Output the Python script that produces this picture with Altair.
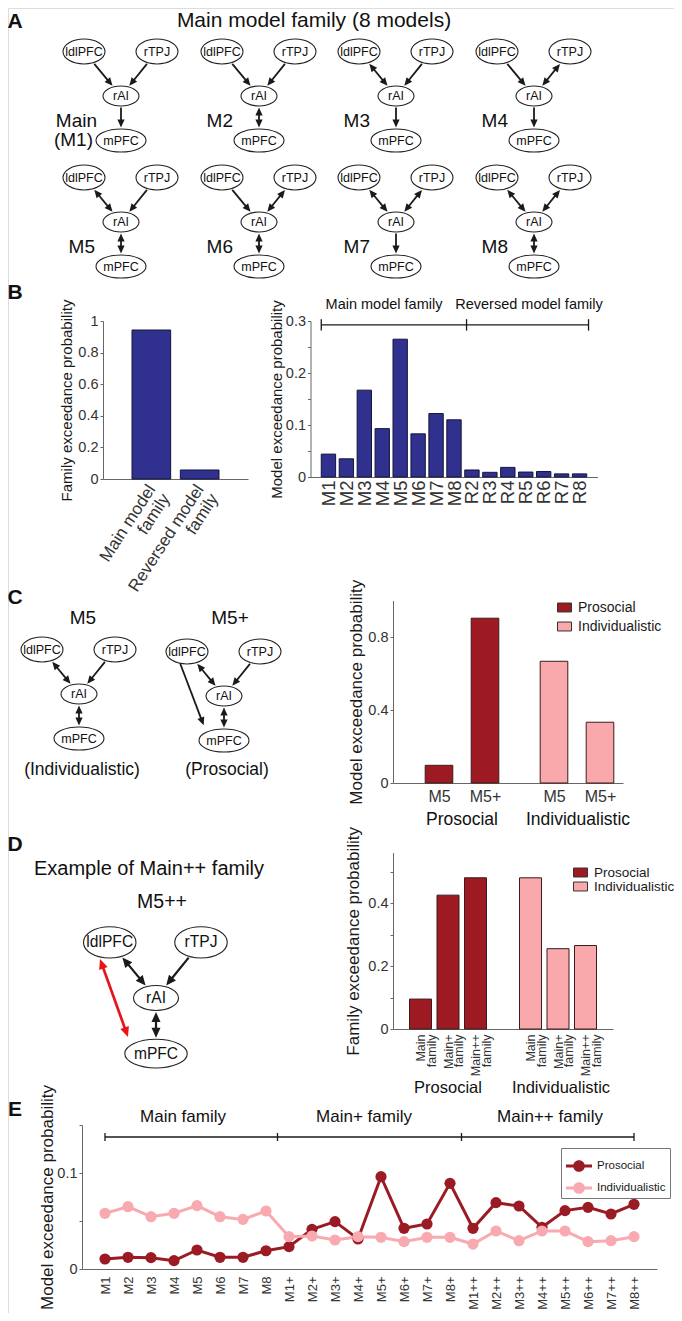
import math
import altair as alt
import pandas as pd

FONT = "Liberation Sans"
W, H = 666, 1305
MG = 8

# ---------------- values ----------------
fam_names = ["Main model family", "Reversed model family"]
fam_values = [0.943, 0.057]

model_names = ["M1", "M2", "M3", "M4", "M5", "M6", "M7", "M8",
               "R2", "R3", "R4", "R5", "R6", "R7", "R8"]
model_values = [0.044, 0.035, 0.167, 0.093, 0.265, 0.083, 0.122, 0.110,
                0.0135, 0.009, 0.0185, 0.0095, 0.0105, 0.006, 0.006]

groups = ["Prosocial", "Individualistic"]
c_models = ["M5", "M5+"]
c_prosocial = [0.097, 0.903]
c_individualistic = [0.667, 0.333]

d_families = ["Main family", "Main+ family", "Main++ family"]
d_prosocial = [0.095, 0.425, 0.480]
d_individualistic = [0.480, 0.255, 0.265]

e_models = ["M1", "M2", "M3", "M4", "M5", "M6", "M7", "M8",
            "M1+", "M2+", "M3+", "M4+", "M5+", "M6+", "M7+", "M8+",
            "M1++", "M2++", "M3++", "M4++", "M5++", "M6++", "M7++", "M8++"]
e_prosocial = [0.0104, 0.0122, 0.0118, 0.0087, 0.0198, 0.0122, 0.0122, 0.0190,
               0.0233, 0.0413, 0.0493, 0.0313, 0.0962, 0.0424, 0.0469, 0.0892,
               0.0424, 0.0691, 0.0656, 0.0434, 0.0608, 0.0642, 0.0573, 0.0674]
e_individualistic = [0.0580, 0.0649, 0.0545, 0.0580, 0.0660, 0.0545, 0.0517, 0.0604,
                     0.0337, 0.0344, 0.0302, 0.0337, 0.0330, 0.0285, 0.0330, 0.0330,
                     0.0260, 0.0396, 0.0295, 0.0396, 0.0396, 0.0285, 0.0295, 0.0337]
e_families = ["Main family", "Main+ family", "Main++ family"]

# connectivity of the 8 main-family models: (ldlPFC-rAI, rTPJ-rAI, rAI-mPFC)
a_models = ["M1", "M2", "M3", "M4", "M5", "M6", "M7", "M8"]
a_links = [("->", "->", "->"), ("->", "->", "<->"), ("<->", "->", "->"), ("->", "<->", "->"),
           ("<->", "->", "<->"), ("->", "<->", "<->"), ("<->", "<->", "->"), ("<->", "<->", "<->")]

# ---------------- styling ----------------
BLUE = "#30308f"
RED = "#9e1a23"
PINK = "#f9a8ab"
INK = "#1a1a1a"
ARROW_RED = "#e8141c"


def S(domain, r0, r1):
    return alt.Scale(domain=domain, range=[r0 - MG, r1 - MG], nice=False, zero=False)


def PX():
    return S([0, 682], 0, 682)


def PY():
    return S([0, 1321], 0, 1321)


AX = dict(domainColor="#666666", domainWidth=1, tickColor="#666666", labelColor="#333333",
          labelFont=FONT, titleFont=FONT, titleFontWeight="normal", titleColor=INK,
          grid=False, labelFlush=False, labelOverlap=False, labelBound=False)


def yaxis(xpage, values, expr, title, tsize, tpad, lsize=14.5):
    return alt.Axis(orient="left", offset=-(xpage - MG), values=values, labelExpr=expr,
                    title=title, titleFontSize=tsize, titlePadding=tpad, labelFontSize=lsize,
                    tickSize=3, labelPadding=2, **AX)


def xaxis(ypage, values, expr, angle=0, lsize=14, pad=4, align=None, baseline=None, lh=None):
    kw = {}
    if align:
        kw["labelAlign"] = align
    if baseline:
        kw["labelBaseline"] = baseline
    if lh:
        kw["labelLineHeight"] = lh
    return alt.Axis(orient="bottom", offset=(ypage - MG) - H, values=values, labelExpr=expr,
                    labelAngle=angle, labelFontSize=lsize, labelPadding=pad, ticks=False,
                    title=None, **AX, **kw)


def js(v):
    if isinstance(v, (list, tuple)):
        return "[" + ",".join(js(x) for x in v) + "]"
    return "'" + str(v) + "'"


def label_expr(positions, labels):
    expr = "''"
    for p, l in reversed(list(zip(positions, labels))):
        expr = f"abs(datum.value - {p}) < 0.01 ? {js(l)} : ({expr})"
    return expr


def two_lines(name):
    return name.rsplit(" ", 1)


layers = []

# ---------------- diagrams ----------------
NODES = ["ldlPFC", "rTPJ", "rAI", "mPFC"]
NODE_POS = {"ldlPFC": (-37, -44.5), "rTPJ": (36, -44.5), "rAI": (0, 0), "mPFC": (0, 44.5)}
NODE_WH = {"ldlPFC": (42, 25), "rTPJ": (42, 25), "rAI": (36, 20), "mPFC": (50, 23)}
LINKS = [("ldlPFC", "rAI"), ("rTPJ", "rAI"), ("rAI", "mPFC")]
HEAD = "M0,0L0.45,1L-0.45,1Z"

node_rows, ntext_rows, line_rows, head_rows = [], [], [], []


def ang(ux, uy):
    return math.degrees(math.atan2(ux, -uy)) % 360


def add_arrow(p0, p1, head0, head1, col, sw, L):
    dx, dy = p1[0] - p0[0], p1[1] - p0[1]
    d = math.hypot(dx, dy)
    ux, uy = dx / d, dy / d
    s0 = (p0[0] + ux * 0.6 * L, p0[1] + uy * 0.6 * L) if head0 else p0
    s1 = (p1[0] - ux * 0.6 * L, p1[1] - uy * 0.6 * L) if head1 else p1
    line_rows.append(dict(x=s0[0], y=s0[1], x2=s1[0], y2=s1[1], col=col, sw=sw))
    if head1:
        head_rows.append(dict(x=p1[0], y=p1[1], ang=ang(ux, uy), sz=(2 * L) ** 2, col=col))
    if head0:
        head_rows.append(dict(x=p0[0], y=p0[1], ang=ang(-ux, -uy), sz=(2 * L) ** 2, col=col))


def add_diagram(cx, cy, s, links, fs, extra=()):
    def pos(n):
        return cx + NODE_POS[n][0] * s, cy + NODE_POS[n][1] * s

    for n in NODES:
        x, y = pos(n)
        w, _ = NODE_WH[n]
        node_rows.append(dict(x=x, y=y, node=n, sz=(w * s) ** 2))
        ntext_rows.append(dict(x=x, y=y, t=n, fs=fs))
    gap = 1.5
    for (a, b), kind in zip(LINKS, links):
        ax_, ay_ = pos(a)
        bx_, by_ = pos(b)
        d = math.hypot(bx_ - ax_, by_ - ay_)
        ux, uy = (bx_ - ax_) / d, (by_ - ay_) / d
        wa, ha = NODE_WH[a]
        wb, hb = NODE_WH[b]
        ta = 1 / math.sqrt((ux / (wa * s / 2)) ** 2 + (uy / (ha * s / 2)) ** 2)
        tb = 1 / math.sqrt((ux / (wb * s / 2)) ** 2 + (uy / (hb * s / 2)) ** 2)
        p0 = (ax_ + ux * (ta + gap), ay_ + uy * (ta + gap))
        p1 = (bx_ - ux * (tb + gap), by_ - uy * (tb + gap))
        add_arrow(p0, p1, kind == "<->", True, INK, 1.8 * s, 8 * s)
    for (q0, q1, h0, h1, col, sw) in extra:
        add_arrow((cx + q0[0] * s, cy + q0[1] * s), (cx + q1[0] * s, cy + q1[1] * s),
                  h0, h1, col, sw * s, 8 * s)


# layout of the diagrams (rAI centre of each diagram, page pixels)
A_X = [121, 259, 396, 534]
A_Y = [96, 222]
for i, m in enumerate(a_models):
    add_diagram(A_X[i % 4], A_Y[i // 4], 1.0, a_links[i], 12.5)
add_diagram(79, 694, 1.0, a_links[4], 12.5)
add_diagram(224, 696, 1.0, a_links[4], 12.5,
            extra=[((-44.3, -33.7), (-20.3, 29.3), False, True, INK, 1.8)])
add_diagram(156, 998, 1.25, a_links[4], 15.6,
            extra=[((-44.8, -31.2), (-22.4, 31.2), True, True, ARROW_RED, 2.2)])


def ellipse_path(a):
    return f"M-1,0A1,{a} 0 0,1 1,0A1,{a} 0 0,1 -1,0Z"


shape_scale = alt.Scale(domain=NODES,
                        range=[ellipse_path(round(NODE_WH[n][1] / NODE_WH[n][0], 3)) for n in NODES])

layers.append(alt.Chart(pd.DataFrame(line_rows)).mark_rule().encode(
    x=alt.X("x:Q", scale=PX(), axis=None), y=alt.Y("y:Q", scale=PY(), axis=None),
    x2="x2:Q", y2="y2:Q",
    color=alt.Color("col:N", scale=None), strokeWidth=alt.StrokeWidth("sw:Q", scale=None)))
layers.append(alt.Chart(pd.DataFrame(head_rows)).mark_point(
    filled=True, shape=HEAD, opacity=1, strokeWidth=0).encode(
    x=alt.X("x:Q", scale=PX(), axis=None), y=alt.Y("y:Q", scale=PY(), axis=None),
    angle=alt.Angle("ang:Q", scale=None), size=alt.Size("sz:Q", scale=None),
    color=alt.Color("col:N", scale=None)))
layers.append(alt.Chart(pd.DataFrame(node_rows)).mark_point(
    filled=True, fill="white", stroke="#222222", strokeWidth=1.1, opacity=1).encode(
    x=alt.X("x:Q", scale=PX(), axis=None), y=alt.Y("y:Q", scale=PY(), axis=None),
    shape=alt.Shape("node:N", scale=shape_scale, legend=None),
    size=alt.Size("sz:Q", scale=None)))


def text_layer(rows, align="center", weight="normal"):
    return alt.Chart(pd.DataFrame(rows)).mark_text(
        font=FONT, align=align, baseline="middle", fontWeight=weight, color="#111111").encode(
        x=alt.X("x:Q", scale=PX(), axis=None), y=alt.Y("y:Q", scale=PY(), axis=None),
        text="t:N", size=alt.Size("fs:Q", scale=None))


layers.append(text_layer(ntext_rows))

# ---------------- annotations (page positions) ----------------
center_txt = [
    dict(t="Main model family (8 models)", x=314, y=21, fs=21),
    dict(t="M5", x=83, y=618, fs=19), dict(t="M5+", x=230, y=618, fs=19),
    dict(t="(Individualistic)", x=82, y=770, fs=17.5), dict(t="(Prosocial)", x=227, y=770, fs=17.5),
    dict(t="Example of Main++ family", x=149, y=869, fs=20), dict(t="M5++", x=162, y=902, fs=19.5),
    dict(t="Main model family", x=384, y=305, fs=14.5),
    dict(t="Reversed model family", x=529, y=305, fs=14.5),
    dict(t=groups[0], x=462, y=820, fs=17.5), dict(t=groups[1], x=578, y=820, fs=17.5),
    dict(t=groups[0], x=448, y=1088, fs=16.5), dict(t=groups[1], x=561, y=1088, fs=16.5),
    dict(t=e_families[0], x=183, y=1117, fs=17), dict(t=e_families[1], x=364, y=1117, fs=17),
    dict(t=e_families[2], x=550, y=1117, fs=17),
]
right_txt = []
for i, m in enumerate(a_models):
    cx, cy = A_X[i % 4], A_Y[i // 4]
    if i == 0:
        right_txt.append(dict(t="Main", x=cx - 24, y=cy + 24.5, fs=19))
        right_txt.append(dict(t="(M1)", x=cx - 28, y=cy + 43.5, fs=19))
    else:
        right_txt.append(dict(t=m, x=cx - 26, y=cy + 25, fs=19))
letters = [dict(t=L, x=15, y=yy, fs=21) for L, yy in
           zip("ABCDE", [22, 293, 598, 845, 1110])]
layers.append(text_layer(center_txt))
layers.append(text_layer(right_txt, align="right"))
layers.append(text_layer(letters, weight="bold"))

# ---------------- B left: family exceedance ----------------
b1 = pd.DataFrame({"name": fam_names, "value": fam_values})
b1["pos"] = range(1, len(b1) + 1)
b1["lo"] = b1["pos"] - 0.4
b1["hi"] = b1["pos"] + 0.4
layers.append(alt.Chart(b1).mark_bar(color=BLUE, stroke="#15153a", strokeWidth=1).encode(
    x=alt.X("lo:Q", scale=S([0, 3], 103, 248),
            axis=xaxis(479, [1, 2], label_expr([1, 2], [two_lines(n) for n in fam_names]),
                       angle=303, lsize=17, pad=7, align="right", baseline="middle", lh=17)),
    x2="hi:Q",
    y=alt.Y("value:Q", scale=S([0, 1], 479, 321),
            axis=yaxis(103, [0, 0.2, 0.4, 0.6, 0.8, 1], "format(datum.value, '~g')",
                       "Family exceedance probability", 15, 3)),
    y2=alt.datum(0)))

# ---------------- B right: model exceedance ----------------
b2 = pd.DataFrame({"name": model_names, "value": model_values})
b2["pos"] = range(1, len(b2) + 1)
b2["lo"] = b2["pos"] - 0.4
b2["hi"] = b2["pos"] + 0.4
B2X = lambda: S([0, 16], 310.5, 597.5)
B2Y = lambda: S([0, 0.3], 477, 321)
layers.append(alt.Chart(b2).mark_bar(color=BLUE, stroke="#15153a", strokeWidth=1).encode(
    x=alt.X("lo:Q", scale=B2X(),
            axis=xaxis(477, list(b2["pos"]), label_expr(list(b2["pos"]), model_names),
                       angle=270, lsize=18.5, pad=3, align="right", baseline="middle")),
    x2="hi:Q",
    y=alt.Y("value:Q", scale=B2Y(),
            axis=yaxis(310.5, [0, 0.05, 0.1, 0.15, 0.2, 0.25, 0.3],
                       "round(datum.value*20) % 2 == 0 ? format(datum.value, '~g') : ''",
                       "Model exceedance probability", 15, 1)),
    y2=alt.datum(0)))
br = pd.DataFrame([dict(x=0.6, x2=15.5, y=0.2925, y2=0.2925)] +
                  [dict(x=v, x2=v, y=0.2815, y2=0.3035) for v in (0.6, 8.7, 15.5)])
layers.append(alt.Chart(br).mark_rule(color=INK, strokeWidth=1.3).encode(
    x=alt.X("x:Q", scale=B2X(), axis=None), x2="x2:Q",
    y=alt.Y("y:Q", scale=B2Y(), axis=None), y2="y2:Q"))

# ---------------- C ----------------
RECT = "M-1,-0.64L1,-0.64L1,0.64L-1,0.64Z"


def group_legend(xp, yp, rowpad, fsz):
    return alt.Legend(orient="none", legendX=xp - MG, legendY=yp - MG, title=None,
                      symbolType=RECT, symbolSize=196, symbolStrokeColor="#333333",
                      symbolStrokeWidth=1, symbolOpacity=1, labelFontSize=fsz, labelFont=FONT,
                      labelColor=INK, rowPadding=rowpad, padding=0, labelOffset=6)


cdf = pd.DataFrame({"group": [g for g in groups for _ in c_models],
                    "model": c_models * len(groups),
                    "value": c_prosocial + c_individualistic})
cdf["pos"] = [gi * 2.5 + mi + 1 for gi in range(len(groups)) for mi in range(len(c_models))]
cdf["lo"] = cdf["pos"] - 0.3
cdf["hi"] = cdf["pos"] + 0.3
layers.append(alt.Chart(cdf).mark_bar(stroke="#3a1c1c", strokeWidth=1).encode(
    x=alt.X("lo:Q", scale=S([0, 5], 393, 623),
            axis=xaxis(783, list(cdf["pos"]), label_expr(list(cdf["pos"]), list(cdf["model"])),
                       lsize=16, pad=5)),
    x2="hi:Q",
    y=alt.Y("value:Q", scale=S([0, 1], 783, 600.5),
            axis=yaxis(393, [0, 0.4, 0.8], "format(datum.value, '~g')",
                       "Model exceedance probability", 17, 2.5)),
    y2=alt.datum(0),
    color=alt.Color("group:N", scale=alt.Scale(domain=groups, range=[RED, PINK]),
                    legend=group_legend(557, 600, 4, 14))))

# ---------------- D ----------------
ddf = pd.DataFrame({"group": [g for g in groups for _ in d_families],
                    "family": d_families * len(groups),
                    "value": d_prosocial + d_individualistic})
ddf["pos"] = [gi * 4 + fi + 1 for gi in range(len(groups)) for fi in range(len(d_families))]
ddf["lo"] = ddf["pos"] - 0.4
ddf["hi"] = ddf["pos"] + 0.4
layers.append(alt.Chart(ddf).mark_bar(stroke="#3a1c1c", strokeWidth=1).encode(
    x=alt.X("lo:Q", scale=S([0, 8], 393, 613),
            axis=xaxis(1029, list(ddf["pos"]),
                       label_expr(list(ddf["pos"]), [two_lines(f) for f in ddf["family"]]),
                       angle=270, lsize=12.5, pad=5, align="right", baseline="middle", lh=10.5)),
    x2="hi:Q",
    y=alt.Y("value:Q", scale=S([0, 0.56], 1029, 852.6),
            axis=yaxis(393, [0, 0.1, 0.2, 0.3, 0.4, 0.5],
                       "round(datum.value*10) % 2 == 0 ? format(datum.value, '~g') : ''",
                       "Family exceedance probability", 17, 5)),
    y2=alt.datum(0),
    color=alt.Color("group:N", scale=alt.Scale(domain=groups, range=[RED, PINK]),
                    legend=group_legend(573, 865, 0, 13.5))))

# ---------------- E ----------------
edf = pd.DataFrame({"model": e_models * 2,
                    "pos": list(range(1, len(e_models) + 1)) * 2,
                    "series": [groups[0]] * len(e_models) + [groups[1]] * len(e_models),
                    "value": e_prosocial + e_individualistic})
EX = lambda: S([0, 25], 82, 657)
EY = lambda: S([0, 0.15], 1269, 1125)
ECOL = alt.Scale(domain=groups, range=["#9b1b25", "#f8aab0"])
LINEPT = ("M-1,-0.12L1,-0.12L1,0.12L-1,0.12Z "
          "M-0.45,0A0.45,0.45 0 1,1 0.45,0A0.45,0.45 0 1,1 -0.45,0Z")
layers.append(alt.Chart(edf).mark_line(strokeWidth=3).encode(
    x=alt.X("pos:Q", scale=EX(),
            axis=xaxis(1269, list(range(1, 25)), label_expr(list(range(1, 25)), e_models),
                       angle=270, lsize=13, pad=7, align="right", baseline="middle")),
    y=alt.Y("value:Q", scale=EY(),
            axis=yaxis(82, [0, 0.05, 0.1, 0.15],
                       "round(datum.value*20) % 2 == 0 ? format(datum.value, '~g') : ''",
                       "Model exceedance probability", 17, 0)),
    color=alt.Color("series:N", scale=ECOL, legend=None)))
layers.append(alt.Chart(edf).mark_point(filled=True, size=125, opacity=1).encode(
    x=alt.X("pos:Q", scale=EX(), axis=None),
    y=alt.Y("value:Q", scale=EY(), axis=None),
    color=alt.Color("series:N", scale=ECOL,
                    legend=alt.Legend(orient="none", legendX=561 - MG, legendY=1148 - MG,
                                      title=None, symbolType=LINEPT, symbolSize=676,
                                      symbolOpacity=1, labelFontSize=11.5, labelFont=FONT,
                                      labelColor=INK, rowPadding=2, padding=4,
                                      strokeColor="#777777", fillColor="white", labelOffset=4))))
ebr = pd.DataFrame([dict(x=1, x2=24, y=0.1375, y2=0.1375)] +
                   [dict(x=v, x2=v, y=0.1333, y2=0.1417) for v in (1, 8.5, 16.5, 24)])
layers.append(alt.Chart(ebr).mark_rule(color=INK, strokeWidth=1.3).encode(
    x=alt.X("x:Q", scale=EX(), axis=None), x2="x2:Q",
    y=alt.Y("y:Q", scale=EY(), axis=None), y2="y2:Q"))

chart = alt.layer(*layers).resolve_scale(
    x="independent", y="independent", color="independent"
).resolve_axis(x="independent", y="independent").resolve_legend(color="independent").properties(
    width=W, height=H, autosize=alt.AutoSizeParams(type="none"), padding=0
).configure_view(stroke=None).configure(font=FONT)

chart.save("out.html", embed_options={"renderer": "svg", "actions": False})
